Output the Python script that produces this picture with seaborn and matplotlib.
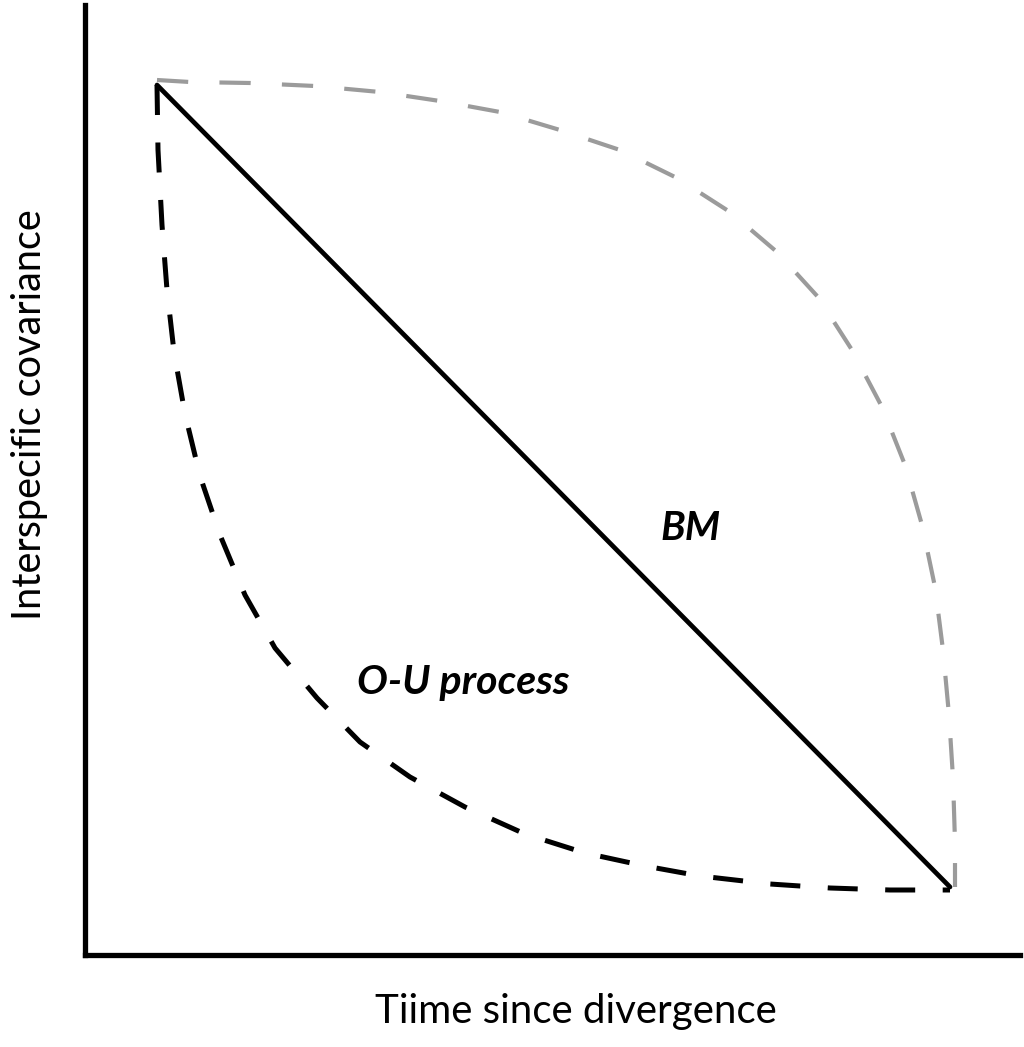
import numpy as np
import pandas as pd
import matplotlib.pyplot as plt
import seaborn as sns

# curve points (x = time, y = covariance, arbitrary units)
bm_x = [72, 865]
bm_y = [870, 68]

ou_x = [72, 73, 77, 82, 89, 100, 115, 135, 160, 190, 232, 275, 325, 380, 440,
        500, 560, 615, 685, 745, 805, 865]
ou_y = [870, 805, 730, 665, 603, 541, 479, 420, 360, 307, 257, 213, 178, 148,
        121, 102, 89, 79, 71, 67, 65, 65]

up_x = [72, 105, 165, 230, 295, 355, 415, 475, 535, 592, 645, 692, 733, 767,
        797, 820, 837, 850, 858, 864, 868, 870, 870]
up_y = [875, 873, 872, 869, 863, 854, 843, 825, 805, 777, 743, 703, 658, 605,
        548, 490, 430, 368, 305, 240, 177, 113, 68]

sns.set_theme(style="white")
plt.rcParams['font.family'] = ['Lato', 'DejaVu Sans']
plt.rcParams['text.color'] = 'black'

fig = plt.figure(figsize=(10.24, 10.47), dpi=100)
ax = fig.add_axes([85/1024, 92/1047, 935/1024, 950/1047])

sns.lineplot(x=up_x, y=up_y, sort=False, estimator=None, ax=ax,
             color="#9b9b9b", linewidth=3.0, linestyle=(0, (7.5, 7.5)))
sns.lineplot(x=ou_x, y=ou_y, sort=False, estimator=None, ax=ax,
             color="black", linewidth=3.6, linestyle=(0, (6, 5.5)))
sns.lineplot(x=bm_x, y=bm_y, sort=False, estimator=None, ax=ax,
             color="black", linewidth=3.4)

ax.text(575, 415, "BM", fontsize=29, fontweight="bold", style="italic",
        va="baseline", ha="left", color="black")
ax.text(272, 261, "O-U process", fontsize=29.5, fontweight="bold",
        style="italic", va="baseline", ha="left", color="black")

ax.set_xlim(0, 935)
ax.set_ylim(0, 950)
ax.set_xticks([])
ax.set_yticks([])
for s in ["top", "right"]:
    ax.spines[s].set_visible(False)
for s in ["left", "bottom"]:
    ax.spines[s].set_color("black")
    ax.spines[s].set_linewidth(3.8)

fig.text(576/1024, 1 - 1012/1047, "Tiime since divergence", fontsize=29,
         ha="center", va="center", color="black")
fig.text(30/1024, 1 - 415/1047, "Interspecific covariance", fontsize=28.5,
         ha="center", va="center", rotation=90, color="black")

fig.savefig("out.png", dpi=100, facecolor="white")
